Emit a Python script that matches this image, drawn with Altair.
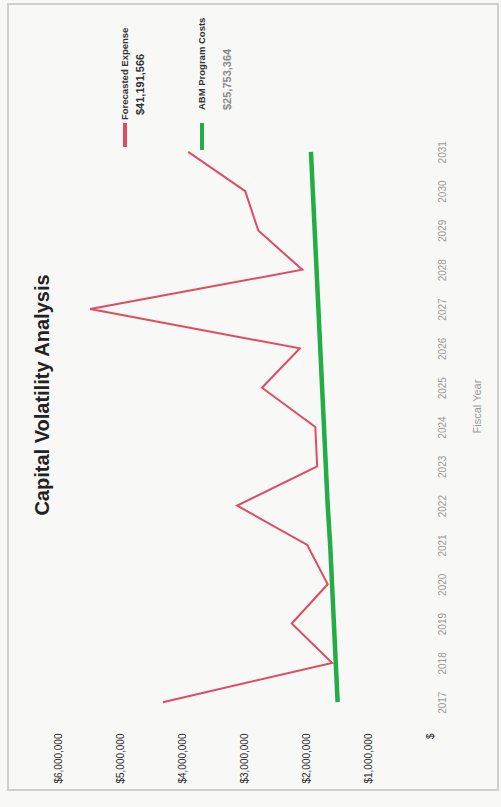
import altair as alt
import pandas as pd

# ---- data read from the (rotated) reference ----
years = list(range(2017, 2032))
forecast = [4310000, 1580000, 2230000, 1650000, 1980000, 3110000, 1820000, 1850000,
            2710000, 2100000, 5480000, 2060000, 2770000, 2980000, 3900000]
abm = [1490000, 1520000, 1550000, 1580000, 1610000, 1650000, 1680000, 1710000,
       1740000, 1770000, 1800000, 1830000, 1860000, 1890000, 1920000]
series_names = ["Forecasted Expense", "ABM Program Costs"]
series_totals = ["$41,191,566", "$25,753,364"]
value_ticks = [0, 1000000, 2000000, 3000000, 4000000, 5000000, 6000000]
chart_title = "Capital Volatility Analysis"
axis_title = "Fiscal Year"

RED = "#e04a63"
GREEN = "#23ad45"
FONT = "Liberation Sans"

# plot-area placement inside the 501x807 page
PL, PT, W, H = 58, 129, 372, 596

df_f = pd.DataFrame({"year": years, "value": forecast})
df_a = pd.DataFrame({"year": years, "value": abm})

x_enc = alt.X(
    "value:Q",
    scale=alt.Scale(domain=[0, 6000000], reverse=True, nice=False),
    axis=alt.Axis(
        values=value_ticks,
        labelExpr="datum.value === 0 ? '$' : '$' + format(datum.value, ',')",
        labelAngle=270, labelFontSize=10, labelColor="#2a2a2a", labelFont=FONT,
        labelPadding=8, labelOverlap=False, ticks=False, tickSize=0,
        domain=False, grid=False, title=None,
    ),
)
y_enc = alt.Y(
    "year:Q",
    scale=alt.Scale(domain=[2016.42, 2031.58], nice=False, zero=False),
    axis=alt.Axis(
        orient="right", values=years, format="d",
        labelAngle=270, labelAlign="center", labelBaseline="top",
        labelPadding=7, labelFontSize=10, labelColor="#9a9a9a", labelFont=FONT,
        labelOverlap=False, ticks=False, tickSize=0, domain=False, grid=False,
        title=axis_title, titleAngle=270, titleX=47, titleY=277,
        titleAlign="center", titleBaseline="middle", titleFontSize=11,
        titleColor="#9a9a9a", titleFontWeight="normal", titleFont=FONT,
    ),
)

abm_line = alt.Chart(df_a).mark_line(color=GREEN, strokeWidth=4.5).encode(
    x=x_enc, y=y_enc, order="year:Q")
fc_line = alt.Chart(df_f).mark_line(color=RED, strokeWidth=2).encode(
    x=x_enc, y=y_enc, order="year:Q")

one = pd.DataFrame({"k": [0]})


def rotated_text(text, px, py, size, color, weight="normal", align="left"):
    return alt.Chart(pd.DataFrame({"t": [text]})).mark_text(
        angle=270, align=align, baseline="middle", fontSize=size,
        font=FONT, color=color, fontWeight=weight,
    ).encode(x=alt.value(px - PL), y=alt.value(py - PT), text="t:N")


def swatch(px, py1, py2, color):
    return alt.Chart(one).mark_rule(color=color, strokeWidth=4).encode(
        x=alt.value(px - PL), y=alt.value(py1 - PT), y2=alt.value(py2 - PT))


frame = alt.Chart(one).mark_rect(fill=None, stroke="#cfcfcf", strokeWidth=2).encode(
    x=alt.value(8 - PL), x2=alt.value(498 - PL),
    y=alt.value(4 - PT), y2=alt.value(790 - PT))

title = rotated_text(chart_title, 43, 395, 20, "#222222", "bold", "center")

legend = [
    swatch(125, 123, 147, RED),
    rotated_text(series_names[0], 125, 120, 9.5, "#333333", "bold"),
    rotated_text(series_totals[0], 141, 115, 11, "#333333", "bold"),
    swatch(202, 123, 150, GREEN),
    rotated_text(series_names[1], 202, 110, 9.5, "#333333", "bold"),
    rotated_text(series_totals[1], 228, 110, 11, "#8a8a8a", "bold"),
]

chart = alt.layer(frame, abm_line, fc_line, title, *legend).properties(
    width=W, height=H,
    autosize=alt.AutoSizeParams(type="none"),
    padding={"left": PL, "top": PT, "right": 501 - PL - W, "bottom": 807 - PT - H},
    background="#f8f8f6",
).configure_view(stroke=None)

chart.save("out.html", embed_options={"renderer": "svg", "actions": False})
